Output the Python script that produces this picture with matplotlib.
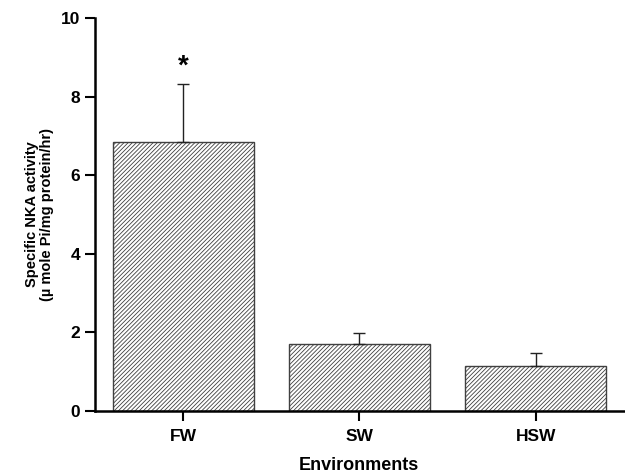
import matplotlib
matplotlib.use('Agg')
import matplotlib.pyplot as plt

# data
environments = ['FW', 'SW', 'HSW']
activity = [6.84, 1.70, 1.14]
sem = [1.48, 0.28, 0.34]

plt.rcParams['font.family'] = ['Liberation Sans', 'DejaVu Sans']
plt.rcParams['font.weight'] = 'bold'
plt.rcParams['hatch.linewidth'] = 0.6

fig = plt.figure(figsize=(6.25, 4.73), dpi=100)
ax = fig.add_axes([0.152, 0.131, 0.846, 0.831])

x = range(len(environments))
ax.bar(x, activity, width=0.8, color='white', edgecolor='#404040',
       linewidth=1.0, hatch='////////')
ax.errorbar(x, activity, yerr=[[0] * len(sem), sem], fmt='none',
            ecolor='#222222', elinewidth=1.0, capsize=4, capthick=1.0)

# significance mark
ax.text(0, activity[0] + sem[0] + 0.12, '*', ha='center', va='bottom',
        fontsize=20, fontweight='bold')

ax.set_xlim(-0.5, 2.5)
ax.set_ylim(0, 10)
ax.set_yticks([0, 2, 4, 6, 8, 10])
ax.set_xticks(list(x))
ax.set_xticklabels(environments)

for s in ['top', 'right']:
    ax.spines[s].set_visible(False)
for s in ['left', 'bottom']:
    ax.spines[s].set_linewidth(1.8)

ax.tick_params(axis='both', direction='out', length=7, width=1.5,
               labelsize=12.5)
ax.tick_params(axis='x', pad=6)

ax.set_xlabel('Environments', fontsize=13, fontweight='bold', labelpad=9)
ax.set_ylabel('Specific NKA activity\n(\u00b5 mole Pi/mg protein/hr)',
              fontsize=10.5, fontweight='bold', labelpad=5, linespacing=1.1)

plt.savefig('out.png', dpi=100)
